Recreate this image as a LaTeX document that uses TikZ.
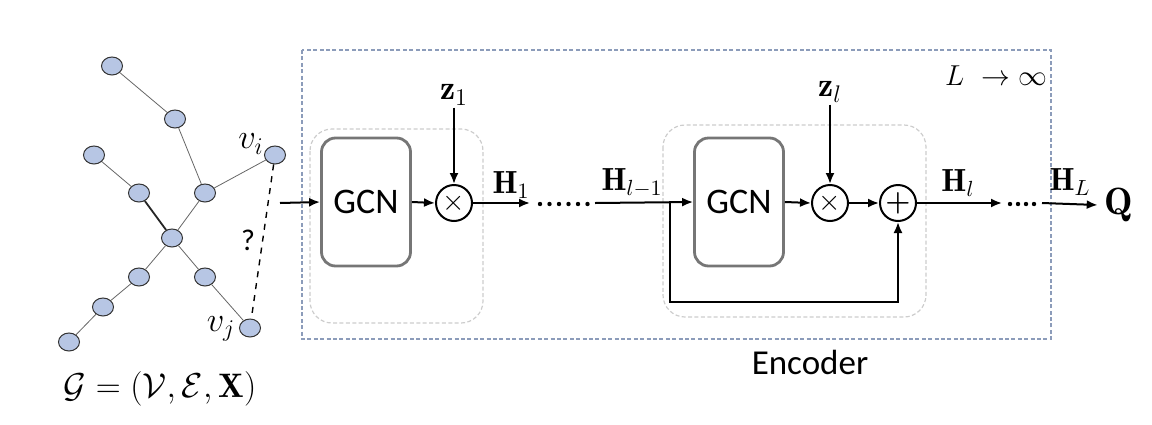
\documentclass[tikz,border=0pt]{standalone}
\usepackage{fontspec}
\usepackage{amsmath}
\usepackage{tikz}
\usetikzlibrary{shapes.geometric,arrows.meta,positioning}
\newfontfamily\gcnfont{Carlito}
\definecolor{nodeblue}{RGB}{183, 198, 228}
\definecolor{boxgray}{RGB}{118, 118, 118}
\definecolor{encblue}{RGB}{140, 156, 186}
\definecolor{grpgray}{RGB}{205, 205, 205}

\begin{document}
\begin{tikzpicture}[x=0.5pt,y=-0.5pt,
    vtx/.style={ellipse, draw=black!80, fill=nodeblue, line width=0.5pt,
                minimum width=10.5pt, minimum height=9pt, inner sep=0pt},
    edge/.style={draw=black!60, line width=0.4pt},
    gcnbox/.style={draw=boxgray, line width=1.4pt, rounded corners=7pt,
                   minimum width=44.5pt, minimum height=64pt,
                   font=\gcnfont\fontsize{18}{20}\selectfont},
    op/.style={circle, draw, line width=1pt, minimum size=18pt, inner sep=0pt,
               font=\fontsize{15}{15}\selectfont},
    flow/.style={-{Latex[length=5.5pt,width=4.5pt]}, line width=1pt},
    lbl/.style={font=\fontsize{16}{18}\selectfont, inner sep=1pt}]
    \useasboundingbox (0,0) rectangle (1152,424);

    % input graph
    \node[vtx] (n1) at (112,66) {};
    \node[vtx] (n2) at (175,119) {};
    \node[vtx] (vi) at (275,155) {};
    \node[vtx] (n4) at (94,155) {};
    \node[vtx] (n5) at (139,193) {};
    \node[vtx] (n6) at (205,193) {};
    \node[vtx] (c) at (172,238) {};
    \node[vtx] (n8) at (139,277) {};
    \node[vtx] (n9) at (205,277) {};
    \node[vtx] (n10) at (103,307) {};
    \node[vtx] (vj) at (250,328) {};
    \node[vtx] (n12) at (69,342) {};

    \draw[edge] (n1) -- (n2) -- (n6) -- (vi);
    \draw[edge] (n4) -- (n5);
    \draw[draw=black!85, line width=0.9pt] (n5) -- (c);
    \draw[edge] (n6) -- (c) -- (n8) -- (n10) -- (n12);
    \draw[edge] (c) -- (n9) -- (vj);
    \draw[dashed, line width=0.7pt] (vi) -- (vj);

    \node[font=\fontsize{18}{20}\selectfont] (lvi) at (251,144) {$v_i$};
    \node[font=\fontsize{18}{20}\selectfont] (lvj) at (221,329) {$v_j$};
    \node[font=\gcnfont\fontsize{15}{17}\selectfont] (q) at (248,240) {?};
    \node[font=\fontsize{17}{19}\selectfont] (glbl) at (160,389)
        {$\mathcal{G}=(\mathcal{V},\mathcal{E},\mathbf{X})$};

    % encoder frame and blocks
    \draw[encblue, dash pattern=on 2pt off 1.2pt, line width=0.8pt] (302,50) rectangle (1051,339);
    \node[font=\gcnfont\fontsize{17.5}{19}\selectfont] (enc) at (810,362) {Encoder};
    \node[font=\fontsize{15}{17}\selectfont] (lim) at (996,76) {$L\ \rightarrow\infty$};

    \draw[grpgray, dash pattern=on 2pt off 1.2pt, line width=0.6pt, rounded corners=11pt] (310,129) rectangle (483,323);
    \draw[grpgray, dash pattern=on 2pt off 1.2pt, line width=0.6pt, rounded corners=11pt] (663,125) rectangle (926,317);

    \node[gcnbox] (gcn1) at (366,202) {GCN};
    \node[op] (x1) at (454,203) {$\times$};
    \node[lbl, font=\fontsize{17}{19}\selectfont] (z1) at (454,95) {$\mathbf{z}_1$};

    \node[gcnbox] (gcn2) at (739,202) {GCN};
    \node[op] (x2) at (830,203) {$\times$};
    \node[op] (plus) at (898,203) {$\boldsymbol{+}$};
    \node[lbl, font=\fontsize{17}{19}\selectfont] (zl) at (830,92) {$\mathbf{z}_l$};

    \coordinate (in) at (280,203);
    \coordinate (h1end) at (530,203);
    \coordinate (hstart) at (595,203);
    \coordinate (split) at (670,203);
    \coordinate (skip) at (670,302);
    \coordinate (hlend) at (1002,203);
    \coordinate (hLstart) at (1042,203);
    \node[font=\fontsize{19}{21}\selectfont] (out) at (1119,205) {$\mathbf{Q}$};

    \draw[flow] (in) -- (gcn1.west);
    \draw[flow] (gcn1.east) -- (x1.west);
    \draw[flow] (z1.south) -- (x1.north);
    \draw[flow] (x1.east) -- (h1end);
    \foreach \x in {540,549.5,...,588} \fill (\x,204) circle (1.1pt);
    \draw[flow] (hstart) -- (gcn2.west);
    \draw[flow] (split) -- (skip) -| (plus.south);
    \draw[flow] (gcn2.east) -- (x2.west);
    \draw[flow] (zl.south) -- (x2.north);
    \draw[flow] (x2.east) -- (plus.west);
    \draw[flow] (plus.east) -- (hlend);
    \foreach \x in {1010,1018,...,1034} \fill (\x,204) circle (1.1pt);
    \draw[flow] (hLstart) -- (out.west);

    \node[lbl] (h1) at (511,185) {$\mathbf{H}_1$};
    \node[lbl] (hl1) at (632,183) {$\mathbf{H}_{l-1}$};
    \node[lbl] (hl) at (958,183) {$\mathbf{H}_l$};
    \node[lbl] (hL) at (1070,182) {$\mathbf{H}_L$};
\end{tikzpicture}
\end{document}
